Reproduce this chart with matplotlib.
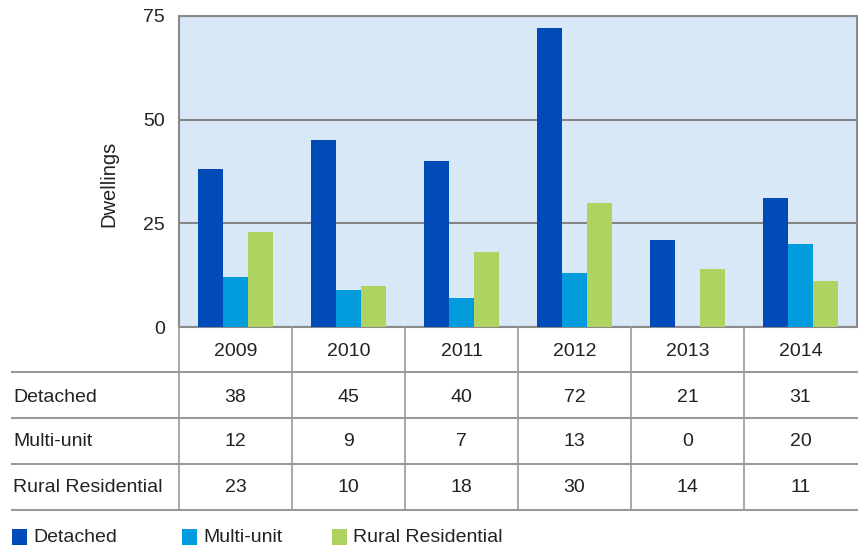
import matplotlib
matplotlib.use("Agg")
import matplotlib.pyplot as plt
import numpy as np
from matplotlib.patches import Rectangle

years = ["2009", "2010", "2011", "2012", "2013", "2014"]
series = ["Detached", "Multi-unit", "Rural Residential"]
detached = [38, 45, 40, 72, 21, 31]
multi_unit = [12, 9, 7, 13, 0, 20]
rural_residential = [23, 10, 18, 30, 14, 11]
y_ticks = [0, 25, 50, 75]
y_label = "Dwellings"

colors = ["#004BB8", "#009CDE", "#AED361"]
values = [detached, multi_unit, rural_residential]

W, H = 858, 548
fig = plt.figure(figsize=(W / 100, H / 100), dpi=100)
fig.patch.set_facecolor("white")

font = ["Liberation Sans", "DejaVu Sans"]
fs = 14
txt_col = "#222222"

# chart area in pixel coordinates
x0, x1 = 179, 857
y_top, y_zero = 16, 327
ax = fig.add_axes([x0 / W, 1 - y_zero / H, (x1 - x0) / W, (y_zero - y_top) / H])
ax.set_facecolor("#D9E8F7")
ax.set_xlim(-0.5, len(years) - 0.5)
ax.set_ylim(0, 75)

x = np.arange(len(years))
bw = 0.222
for i, (vals, col) in enumerate(zip(values, colors)):
    ax.bar(x + (i - 1) * bw, vals, width=bw, color=col, zorder=3, linewidth=0)

ax.set_yticks(y_ticks)
ax.set_yticklabels([str(t) for t in y_ticks], fontsize=fs, family=font, color=txt_col)
ax.tick_params(axis="y", length=0, pad=10)
ax.set_xticks([])
ax.yaxis.grid(True, color="#858585", linewidth=1.5, zorder=1)
for s in ["left", "top", "right", "bottom"]:
    ax.spines[s].set_color("#8a8a8a")
    ax.spines[s].set_linewidth(1.5)
ax.set_ylabel(y_label, fontsize=14.5, family=font, color=txt_col)
ax.yaxis.set_label_coords(-0.089, 0.46)

# data table drawn on a full-figure overlay in pixel units
ov = fig.add_axes([0, 0, 1, 1])
ov.set_xlim(0, W)
ov.set_ylim(H, 0)
ov.axis("off")

line_col = "#9a9a9a"
col_edges = [x0 + (x1 - x0) * k / len(years) for k in range(len(years) + 1)]
row_lines = [372, 418, 464, 510]
header_y = 351
row_ys = [397, 441, 488]

for xe in col_edges[:-1]:
    ov.plot([xe, xe], [y_zero, row_lines[-1]], color=line_col, lw=1.2)
for yl in row_lines:
    ov.plot([12, W], [yl, yl], color=line_col, lw=1.5)

centers = [(col_edges[k] + col_edges[k + 1]) / 2 for k in range(len(years))]
for cx, yr in zip(centers, years):
    ov.text(cx, header_y, yr, ha="center", va="center", fontsize=fs, family=font, color=txt_col)

for ry, name, vals in zip(row_ys, series, values):
    ov.text(13, ry, name, ha="left", va="center", fontsize=fs, family=font, color=txt_col)
    for cx, v in zip(centers, vals):
        ov.text(cx, ry, str(v), ha="center", va="center", fontsize=fs, family=font, color=txt_col)

# legend
leg_x = [12, 182, 332]
for lx, name, col in zip(leg_x, series, colors):
    ov.add_patch(Rectangle((lx, 529), 15, 16, color=col, lw=0))
    ov.text(lx + 21, 537, name, ha="left", va="center", fontsize=fs, family=font, color=txt_col)

fig.savefig("out.png", dpi=100)
